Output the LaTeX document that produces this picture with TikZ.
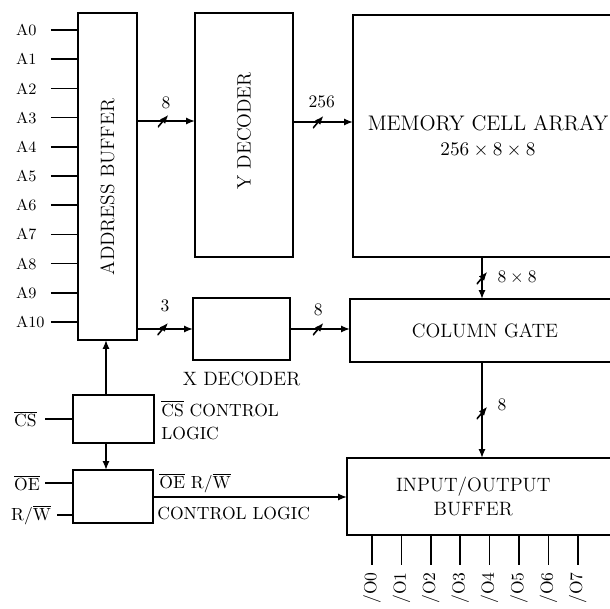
\documentclass[tikz,border=0pt]{standalone}
\usetikzlibrary{arrows.meta}

\tikzset{
  blk/.style={draw, line width=1pt, inner sep=0pt, outer sep=0pt},
  sig/.style={line width=1pt, -{Latex[length=5pt,width=4pt]}},
  wire/.style={line width=1pt},
  slash/.style={inner sep=0pt, minimum width=6pt, minimum height=7pt,
    path picture={\draw[line width=0.9pt] (path picture bounding box.south west) -- (path picture bounding box.north east);}},
  txt/.style={font=\fontsize{11pt}{14pt}\selectfont},
  big txt/.style={font=\fontsize{12pt}{15pt}\selectfont},
  small txt/.style={font=\fontsize{10pt}{13pt}\selectfont},
}

\begin{document}
\begin{tikzpicture}[x=0.02cm, y=-0.02cm]
\clip (0,0) rectangle (610,609);

% blocks
\node[blk, minimum width=1.18cm, minimum height=6.54cm] (abuf) at (107.5,176.5) {};
\node[txt, rotate=90] (abuftxt) at (107.5,187) {ADDRESS BUFFER};
\node[blk, minimum width=1.96cm, minimum height=4.88cm] (ydec) at (244,135) {};
\node[txt, rotate=90] (ydectxt) at (244,131) {Y DECODER};
\node[blk, big txt, align=center, minimum width=5.4cm, minimum height=4.84cm] (mem) at (488,136) {MEMORY CELL ARRAY\\[-1pt]{\fontsize{11pt}{14pt}\selectfont$256\times8\times8$}};
\node[blk, minimum width=1.94cm, minimum height=1.24cm] (xdec) at (241.5,329) {};
\node[txt, anchor=north] (xdectxt) at ([yshift=-3pt]xdec.south) {X DECODER};
\node[blk, txt, minimum width=5.4cm, minimum height=1.26cm] (colg) at (485,330.5) {COLUMN GATE};
\node[blk, txt, align=center, minimum width=5.4cm, minimum height=1.54cm] (iob) at (482,496.5) {\hspace*{-0.35cm}INPUT/OUTPUT\\\hspace*{-0.35cm}BUFFER};
\node[blk, minimum width=1.62cm, minimum height=0.96cm] (cs) at (113.5,419) {};
\node[blk, minimum width=1.6cm, minimum height=1.06cm] (oe) at (113,496.5) {};

% address inputs
\coordinate (lx) at (51,0);
\foreach \i in {0,...,10} {
  \node[anchor=west, inner sep=1pt, font=\small] (a\i) at (14,{30+29.2*\i}) {A\i};
  \draw[wire] (a\i -| lx) -- (a\i -| abuf.west);
}

% buses
\coordinate (ay) at (0,121);
\draw[sig] (ay -| abuf.east) -- node[slash, pos=0.45]{} node[pos=0.5, above=3pt]{8} (ay -| ydec.west);
\coordinate (my) at (0,122);
\draw[sig] (my -| ydec.east) -- node[slash, pos=0.42]{} node[pos=0.48, above=4pt]{256} (my -| mem.west);
\draw[sig] (xdec.west -| abuf.east) -- node[slash, pos=0.46]{} node[pos=0.5, above=6pt]{3} (xdec.west);
\draw[sig] (xdec.east) -- node[slash, pos=0.47]{} node[pos=0.47, above=3.5pt]{8} (xdec.east -| colg.west);
\coordinate (vx) at (482,0);
\draw[sig] (vx |- mem.south) -- node[slash, pos=0.5]{} node[pos=0.5, right=5pt]{$8\times8$} (vx |- colg.north);
\draw[sig] (vx |- colg.south) -- node[slash, pos=0.53]{} node[pos=0.45, right=5pt]{8} (vx |- iob.north);

% control logic
\coordinate (cx) at (106,0);
\draw[sig] (cx |- cs.north) -- (cx |- abuf.south);
\draw[sig] (cx |- cs.south) -- (cx |- oe.north);
\node[small txt, anchor=north west, align=left, inner sep=0pt] (cstxt) at (161,400) {$\overline{\mbox{CS}}$ CONTROL\\LOGIC};
\coordinate (oy) at (0,497);
\draw[sig] (oy -| oe.east) -- (oy -| iob.west);
\node[small txt, anchor=west, inner sep=0pt] (oetxt) at (159,483) {$\overline{\mbox{OE}}$ R/$\overline{\mbox{W}}$};
\node[small txt, anchor=west, inner sep=0pt] (ctltxt) at (157,513) {CONTROL LOGIC};

% control inputs
\coordinate (cl) at (45,0);
\coordinate (rl) at (57,0);
\node[anchor=west, inner sep=1pt] (csin) at (12,419) {$\overline{\mbox{CS}}$};
\draw[wire] (cs.west) -- (cs.west -| cl);
\node[anchor=west, inner sep=1pt] (oein) at (12,483) {$\overline{\mbox{OE}}$};
\coordinate (oey) at (0,483);
\draw[wire] (oey -| oe.west) -- (oey -| cl);
\node[anchor=west, inner sep=1pt] (rwin) at (9,515) {R/$\overline{\mbox{W}}$};
\coordinate (rwy) at (0,515);
\draw[wire] (rwy -| oe.west) -- (rwy -| rl);

% data outputs
\foreach \i in {0,...,7} {
  \coordinate (io\i) at ({372+29.4*\i},565);
  \draw[wire] (io\i |- iob.south) -- (io\i);
  \node[rotate=90, anchor=east, inner sep=0pt] (iol\i) at ([yshift=-4pt]io\i) {/O\i};
}
\end{tikzpicture}
\end{document}
